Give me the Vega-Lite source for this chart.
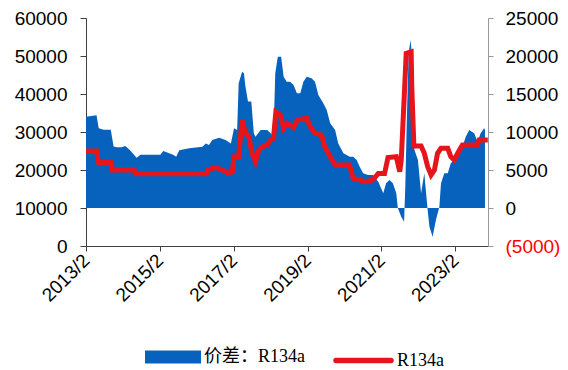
{
  "$schema": "https://vega.github.io/schema/vega-lite/v6.json",
  "width": 402,
  "height": 228,
  "autosize": "none",
  "padding": {"left": 86, "top": 18, "right": 80, "bottom": 124},
  "background": "white",
  "config": {"view": {"stroke": null}, "font": "Liberation Sans", "legend": {"padding": 0}},
  "datasets": {
    "spread": [
      {"date": "2013/02/01", "value": 12000},
      {"date": "2013/05/16", "value": 12200},
      {"date": "2013/06/07", "value": 10500},
      {"date": "2013/07/25", "value": 10300},
      {"date": "2013/10/04", "value": 10300},
      {"date": "2013/11/01", "value": 8100},
      {"date": "2013/12/01", "value": 8000},
      {"date": "2014/01/19", "value": 8000},
      {"date": "2014/02/25", "value": 8150},
      {"date": "2014/04/13", "value": 7600},
      {"date": "2014/06/16", "value": 6600},
      {"date": "2014/07/25", "value": 7000},
      {"date": "2015/02/07", "value": 7000},
      {"date": "2015/03/07", "value": 7500},
      {"date": "2015/06/13", "value": 7000},
      {"date": "2015/07/13", "value": 6750},
      {"date": "2015/08/13", "value": 7600},
      {"date": "2015/11/19", "value": 7850},
      {"date": "2016/03/28", "value": 8070},
      {"date": "2016/05/01", "value": 8500},
      {"date": "2016/06/01", "value": 8300},
      {"date": "2016/07/04", "value": 8950},
      {"date": "2016/09/10", "value": 9250},
      {"date": "2016/11/13", "value": 8950},
      {"date": "2017/01/04", "value": 8500},
      {"date": "2017/02/04", "value": 10500},
      {"date": "2017/03/07", "value": 10260},
      {"date": "2017/03/22", "value": 16400},
      {"date": "2017/04/25", "value": 17930},
      {"date": "2017/05/13", "value": 17720},
      {"date": "2017/05/28", "value": 16000},
      {"date": "2017/06/22", "value": 14000},
      {"date": "2017/07/25", "value": 14000},
      {"date": "2017/08/19", "value": 9830},
      {"date": "2017/09/04", "value": 9380},
      {"date": "2017/10/25", "value": 10260},
      {"date": "2017/12/28", "value": 10260},
      {"date": "2018/02/01", "value": 9830},
      {"date": "2018/03/01", "value": 9380},
      {"date": "2018/03/19", "value": 17720},
      {"date": "2018/04/13", "value": 19900},
      {"date": "2018/05/16", "value": 19900},
      {"date": "2018/06/10", "value": 17280},
      {"date": "2018/07/10", "value": 16620},
      {"date": "2018/08/13", "value": 16620},
      {"date": "2018/09/16", "value": 16200},
      {"date": "2018/10/19", "value": 15100},
      {"date": "2018/11/22", "value": 15100},
      {"date": "2018/12/22", "value": 16620},
      {"date": "2019/01/25", "value": 17280},
      {"date": "2019/03/13", "value": 17060},
      {"date": "2019/04/16", "value": 16620},
      {"date": "2019/05/19", "value": 14870},
      {"date": "2019/07/07", "value": 13780},
      {"date": "2019/08/10", "value": 12900},
      {"date": "2019/09/13", "value": 11140},
      {"date": "2019/11/01", "value": 10260},
      {"date": "2019/12/01", "value": 8510},
      {"date": "2020/01/22", "value": 7200},
      {"date": "2020/03/25", "value": 6750},
      {"date": "2020/04/28", "value": 6750},
      {"date": "2020/06/01", "value": 6300},
      {"date": "2020/07/01", "value": 5430},
      {"date": "2020/08/04", "value": 4570},
      {"date": "2020/09/22", "value": 4340},
      {"date": "2020/11/10", "value": 4340},
      {"date": "2021/01/01", "value": 3460},
      {"date": "2021/02/19", "value": 1930},
      {"date": "2021/03/19", "value": 3250},
      {"date": "2021/04/22", "value": 3680},
      {"date": "2021/05/25", "value": 3250},
      {"date": "2021/06/28", "value": 1930},
      {"date": "2021/07/13", "value": 0},
      {"date": "2021/08/16", "value": -1140},
      {"date": "2021/09/13", "value": -1800},
      {"date": "2021/09/25", "value": 2800},
      {"date": "2021/10/10", "value": 11580},
      {"date": "2021/10/28", "value": 20350},
      {"date": "2021/11/16", "value": 22100},
      {"date": "2021/11/28", "value": 20350},
      {"date": "2021/12/10", "value": 11580},
      {"date": "2021/12/25", "value": 7630},
      {"date": "2022/01/28", "value": 6300},
      {"date": "2022/02/28", "value": 1930},
      {"date": "2022/04/01", "value": 4570},
      {"date": "2022/04/19", "value": 1930},
      {"date": "2022/05/04", "value": -260},
      {"date": "2022/05/22", "value": -2460},
      {"date": "2022/06/22", "value": -3780},
      {"date": "2022/07/25", "value": -1580},
      {"date": "2022/08/28", "value": 170},
      {"date": "2022/09/13", "value": 3250},
      {"date": "2022/10/16", "value": 4570},
      {"date": "2022/11/19", "value": 4570},
      {"date": "2022/12/19", "value": 5880},
      {"date": "2023/01/22", "value": 6300},
      {"date": "2023/02/25", "value": 7200},
      {"date": "2023/04/13", "value": 8070},
      {"date": "2023/05/16", "value": 9380},
      {"date": "2023/06/19", "value": 10260},
      {"date": "2023/08/07", "value": 9830},
      {"date": "2023/09/10", "value": 8720},
      {"date": "2023/10/10", "value": 9830},
      {"date": "2023/11/13", "value": 10490},
      {"date": "2023/11/22", "value": 10300}
    ],
    "price": [
      {"date": "2013/02/01", "value": 25000},
      {"date": "2013/05/18", "value": 25000},
      {"date": "2013/05/25", "value": 23500},
      {"date": "2013/06/07", "value": 22000},
      {"date": "2013/10/10", "value": 22000},
      {"date": "2013/10/20", "value": 20000},
      {"date": "2014/05/25", "value": 20000},
      {"date": "2014/06/05", "value": 19000},
      {"date": "2016/05/10", "value": 19000},
      {"date": "2016/05/20", "value": 20000},
      {"date": "2016/08/07", "value": 20700},
      {"date": "2016/10/10", "value": 20000},
      {"date": "2016/12/16", "value": 19100},
      {"date": "2017/01/19", "value": 19550},
      {"date": "2017/02/04", "value": 23500},
      {"date": "2017/03/22", "value": 23500},
      {"date": "2017/04/25", "value": 33200},
      {"date": "2017/05/28", "value": 29700},
      {"date": "2017/07/01", "value": 28800},
      {"date": "2017/08/01", "value": 24400},
      {"date": "2017/09/04", "value": 22200},
      {"date": "2017/10/07", "value": 25300},
      {"date": "2017/11/10", "value": 26100},
      {"date": "2017/12/28", "value": 26600},
      {"date": "2018/02/01", "value": 27900},
      {"date": "2018/03/01", "value": 28300},
      {"date": "2018/03/25", "value": 35300},
      {"date": "2018/05/07", "value": 34500},
      {"date": "2018/06/10", "value": 31000},
      {"date": "2018/07/10", "value": 32300},
      {"date": "2018/08/13", "value": 31800},
      {"date": "2018/09/16", "value": 31200},
      {"date": "2018/10/25", "value": 33200},
      {"date": "2019/01/25", "value": 33600},
      {"date": "2019/02/28", "value": 31400},
      {"date": "2019/04/16", "value": 29700},
      {"date": "2019/06/19", "value": 29200},
      {"date": "2019/07/22", "value": 26100},
      {"date": "2019/09/13", "value": 23500},
      {"date": "2019/11/01", "value": 21300},
      {"date": "2020/03/22", "value": 21300},
      {"date": "2020/04/28", "value": 17800},
      {"date": "2020/07/01", "value": 17400},
      {"date": "2020/08/22", "value": 16900},
      {"date": "2020/11/10", "value": 17400},
      {"date": "2021/01/01", "value": 19100},
      {"date": "2021/03/04", "value": 19100},
      {"date": "2021/04/07", "value": 23300},
      {"date": "2021/06/28", "value": 23500},
      {"date": "2021/08/01", "value": 19550},
      {"date": "2021/08/16", "value": 22600},
      {"date": "2021/09/19", "value": 41900},
      {"date": "2021/10/04", "value": 50700},
      {"date": "2021/11/22", "value": 51100},
      {"date": "2021/11/28", "value": 41900},
      {"date": "2021/12/19", "value": 26300},
      {"date": "2022/02/28", "value": 26300},
      {"date": "2022/04/01", "value": 24400},
      {"date": "2022/05/04", "value": 20900},
      {"date": "2022/06/07", "value": 18700},
      {"date": "2022/07/10", "value": 20000},
      {"date": "2022/08/10", "value": 24400},
      {"date": "2022/09/13", "value": 25700},
      {"date": "2022/11/19", "value": 25700},
      {"date": "2022/12/19", "value": 23500},
      {"date": "2023/01/22", "value": 22600},
      {"date": "2023/02/25", "value": 24400},
      {"date": "2023/04/13", "value": 26600},
      {"date": "2023/09/10", "value": 26600},
      {"date": "2023/09/25", "value": 27900},
      {"date": "2023/12/20", "value": 27900}
    ]
  },
  "layer": [
    {
      "data": {"name": "spread"},
      "mark": {"type": "area", "interpolate": "linear"},
      "encoding": {
        "x": {
          "field": "date", "type": "temporal",
          "scale": {"domain": [{"year": 2013, "month": 2, "date": 1}, {"year": 2023, "month": 12, "date": 22}]},
          "axis": {
            "title": null, "grid": false, "format": "%Y/%-m",
            "values": [{"year": 2013, "month": 2, "date": 1}, {"year": 2015, "month": 2, "date": 1}, {"year": 2017, "month": 2, "date": 1}, {"year": 2019, "month": 2, "date": 1}, {"year": 2021, "month": 2, "date": 1}, {"year": 2023, "month": 2, "date": 1}],
            "labelAngle": -45, "labelAlign": "right", "labelBaseline": "middle",
            "labelFontSize": 19, "labelColor": "#000000", "labelPadding": 6,
            "labelOverlap": false, "labelFlush": false, "labelBound": false,
            "domainColor": "#404040", "tickColor": "#404040", "tickSize": 5
          }
        },
        "y": {
          "field": "value", "type": "quantitative",
          "scale": {"domain": [-5000, 25000], "nice": false},
          "axis": {
            "orient": "right", "title": null, "grid": false,
            "values": [-5000, 0, 5000, 10000, 15000, 20000, 25000],
            "labelExpr": "datum.value < 0 ? '(' + format(-datum.value, 'd') + ')' : format(datum.value, 'd')",
            "labelColor": {"condition": {"test": "datum.value < 0", "value": "#FF0000"}, "value": "#000000"},
            "labelFontSize": 19, "labelPadding": 12,
            "domainColor": "#999999", "tickColor": "#999999", "tickSize": 5
          }
        },
        "color": {
          "datum": "价差：R134a",
          "scale": {"domain": ["价差：R134a"], "range": ["#0662BC"]},
          "legend": {
            "title": null, "orient": "none", "legendX": 59, "legendY": 311,
            "symbolType": "M-1,-0.23H1V0.23H-1Z", "symbolSize": 3136, "symbolStrokeWidth": 0,
            "labelFont": "Liberation Serif, Noto Sans CJK SC", "labelFontSize": 18, "labelColor": "#000000", "labelOffset": 3
          }
        }
      }
    },
    {
      "data": {"name": "price"},
      "mark": {"type": "line", "strokeWidth": 5, "strokeJoin": "miter", "interpolate": "linear"},
      "encoding": {
        "x": {"field": "date", "type": "temporal"},
        "y": {
          "field": "value", "type": "quantitative",
          "scale": {"domain": [0, 60000], "nice": false},
          "axis": {
            "orient": "left", "title": null, "grid": false,
            "values": [0, 10000, 20000, 30000, 40000, 50000, 60000], "format": "d",
            "labelFontSize": 19, "labelColor": "#000000", "labelPadding": 13,
            "domainColor": "#404040", "tickColor": "#404040", "tickSize": 6
          }
        },
        "color": {
          "datum": "R134a",
          "scale": {"domain": ["R134a"], "range": ["#E8141C"]},
          "legend": {
            "title": null, "orient": "none", "legendX": 247, "legendY": 312,
            "symbolType": "stroke", "symbolSize": 3025, "symbolStrokeWidth": 5.5,
            "labelFont": "Liberation Serif", "labelFontSize": 18, "labelColor": "#000000", "labelOffset": 3,
            "encode": {"symbols": {"update": {"strokeCap": {"value": "round"}}}}
          }
        }
      }
    }
  ],
  "resolve": {"scale": {"y": "independent", "color": "independent"}}
}
